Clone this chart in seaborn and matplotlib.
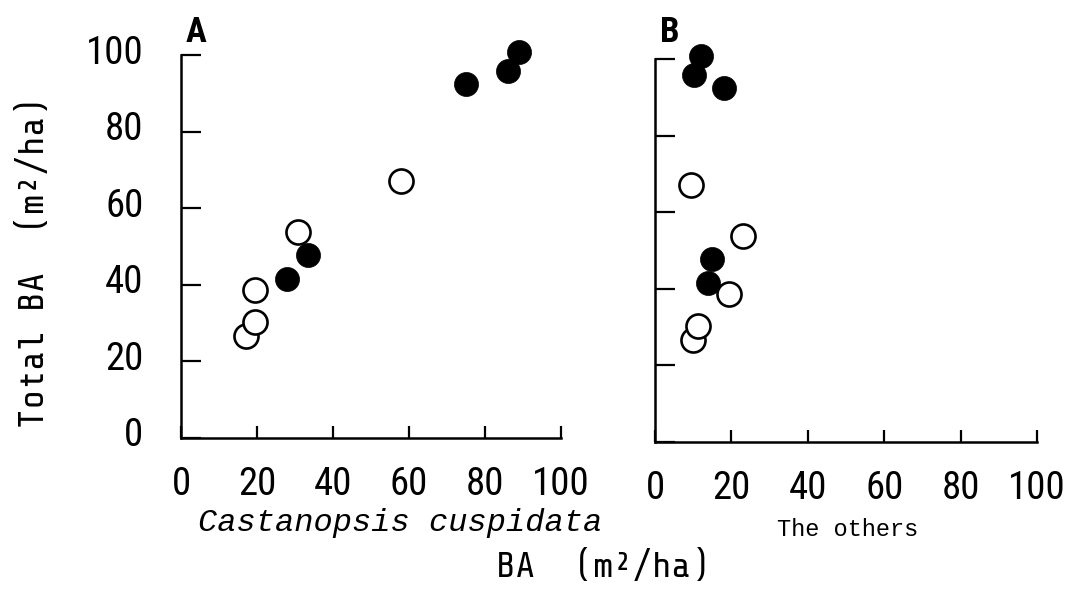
import matplotlib
matplotlib.use("Agg")
import matplotlib.pyplot as plt
import matplotlib.transforms as mtransforms
import seaborn as sns
import pandas as pd
from matplotlib import font_manager

# Basal area per plot (m^2/ha): total stand BA, Castanopsis cuspidata BA, BA of the other species
total_open = [26.6, 30.2, 38.6, 53.8, 67.0]
cc_open = [17.1, 19.5, 19.5, 30.8, 57.9]
others_open = [9.9, 11.3, 19.4, 23.0, 9.4]

total_filled = [41.6, 47.7, 92.5, 95.8, 100.7]
cc_filled = [27.9, 33.4, 75.0, 86.1, 89.0]
others_filled = [13.9, 14.9, 18.1, 10.2, 12.0]

ticks = [0, 20, 40, 60, 80, 100]
panel_letters = ["A", "B"]
panel_xlabels = ["Castanopsis cuspidata", "The others"]

sns.set_theme(style="ticks")

names = {f.name for f in font_manager.fontManager.ttflist}


def pick(*cands):
    for c in cands:
        if c in names:
            return c
    return "DejaVu Sans"


narrow = pick("Roboto Condensed", "PT Sans Narrow", "DejaVu Sans")
mono = pick("Share Tech Mono", "Roboto Mono", "DejaVu Sans Mono")
ital = pick("Liberation Mono", "DejaVu Sans Mono")
plt.rcParams["font.family"] = [narrow, "DejaVu Sans"]

df_open = pd.DataFrame({"total": total_open, "cc": cc_open, "others": others_open})
df_filled = pd.DataFrame({"total": total_filled, "cc": cc_filled, "others": others_filled})

fig = plt.figure(figsize=(10.79, 5.90), dpi=100)
W, H = 1079, 590
# axes boxes in pixel terms: left, bottom spine, right, top (y=100)
boxes = [(181, 438, 561, 55), (655, 442, 1037, 59)]
xcols = ["cc", "others"]

axes = []
for i, (l, b, r, t) in enumerate(boxes):
    ax = fig.add_axes([l / W, (H - b) / H, (r - l) / W, (b - t) / H])
    axes.append(ax)
    sns.scatterplot(data=df_open, x=xcols[i], y="total", ax=ax, s=300,
                    facecolor="white", edgecolor="black", linewidth=1.9,
                    clip_on=False, zorder=3)
    sns.scatterplot(data=df_filled, x=xcols[i], y="total", ax=ax, s=300,
                    color="black", edgecolor="black", linewidth=0.5,
                    clip_on=False, zorder=4)
    ax.set_xlim(0, 100)
    ax.set_ylim(0, 100)
    ax.set_xticks(ticks)
    ax.set_yticks(ticks)
    for side in ["top", "right"]:
        ax.spines[side].set_visible(False)
    for side in ["left", "bottom"]:
        ax.spines[side].set_linewidth(1.8)
        ax.spines[side].set_color("black")
    ax.tick_params(axis="y", direction="in", length=14.5, width=1.6, color="black",
                   labelsize=28, pad=27, labelcolor="black")
    ax.tick_params(axis="x", direction="in", length=9, width=1.6, color="black",
                   labelsize=28, pad=20, labelcolor="black")
    ax.set_xlabel("")
    ax.set_ylabel("")
    ax.set_facecolor("white")
    # panel letter
    ax.text(l / W + 5 / W, (H - 33) / H, panel_letters[i], transform=fig.transFigure,
            fontsize=25, fontweight="bold", family=[narrow, "DejaVu Sans"],
            ha="left", va="center", color="black")

axes[1].tick_params(axis="y", labelleft=False)

# nudge the y tick labels slightly upward
shift = mtransforms.ScaledTranslation(0, 6 / 100, fig.dpi_scale_trans)
for lab in axes[0].get_yticklabels():
    lab.set_transform(lab.get_transform() + shift)

fig.text(400 / W, (H - 523) / H, panel_xlabels[0], family=[ital, "DejaVu Sans"], style="italic",
         fontsize=23, ha="center", va="center", color="black")
fig.text(848 / W, (H - 530) / H, panel_xlabels[1], family=[ital, "DejaVu Sans"],
         fontsize=17, ha="center", va="center", color="black")
fig.text(603 / W, (H - 566) / H, "BA  (m\u00b2/ha)", family=[mono, "DejaVu Sans"],
         fontsize=26, ha="center", va="center", color="black")
fig.text(33 / W, (H - 262) / H, "Total BA  (m\u00b2/ha)", family=[mono, "DejaVu Sans"],
         fontsize=26, ha="center", va="center", rotation=90, color="black")

fig.savefig("out.png", dpi=100, facecolor="white")
